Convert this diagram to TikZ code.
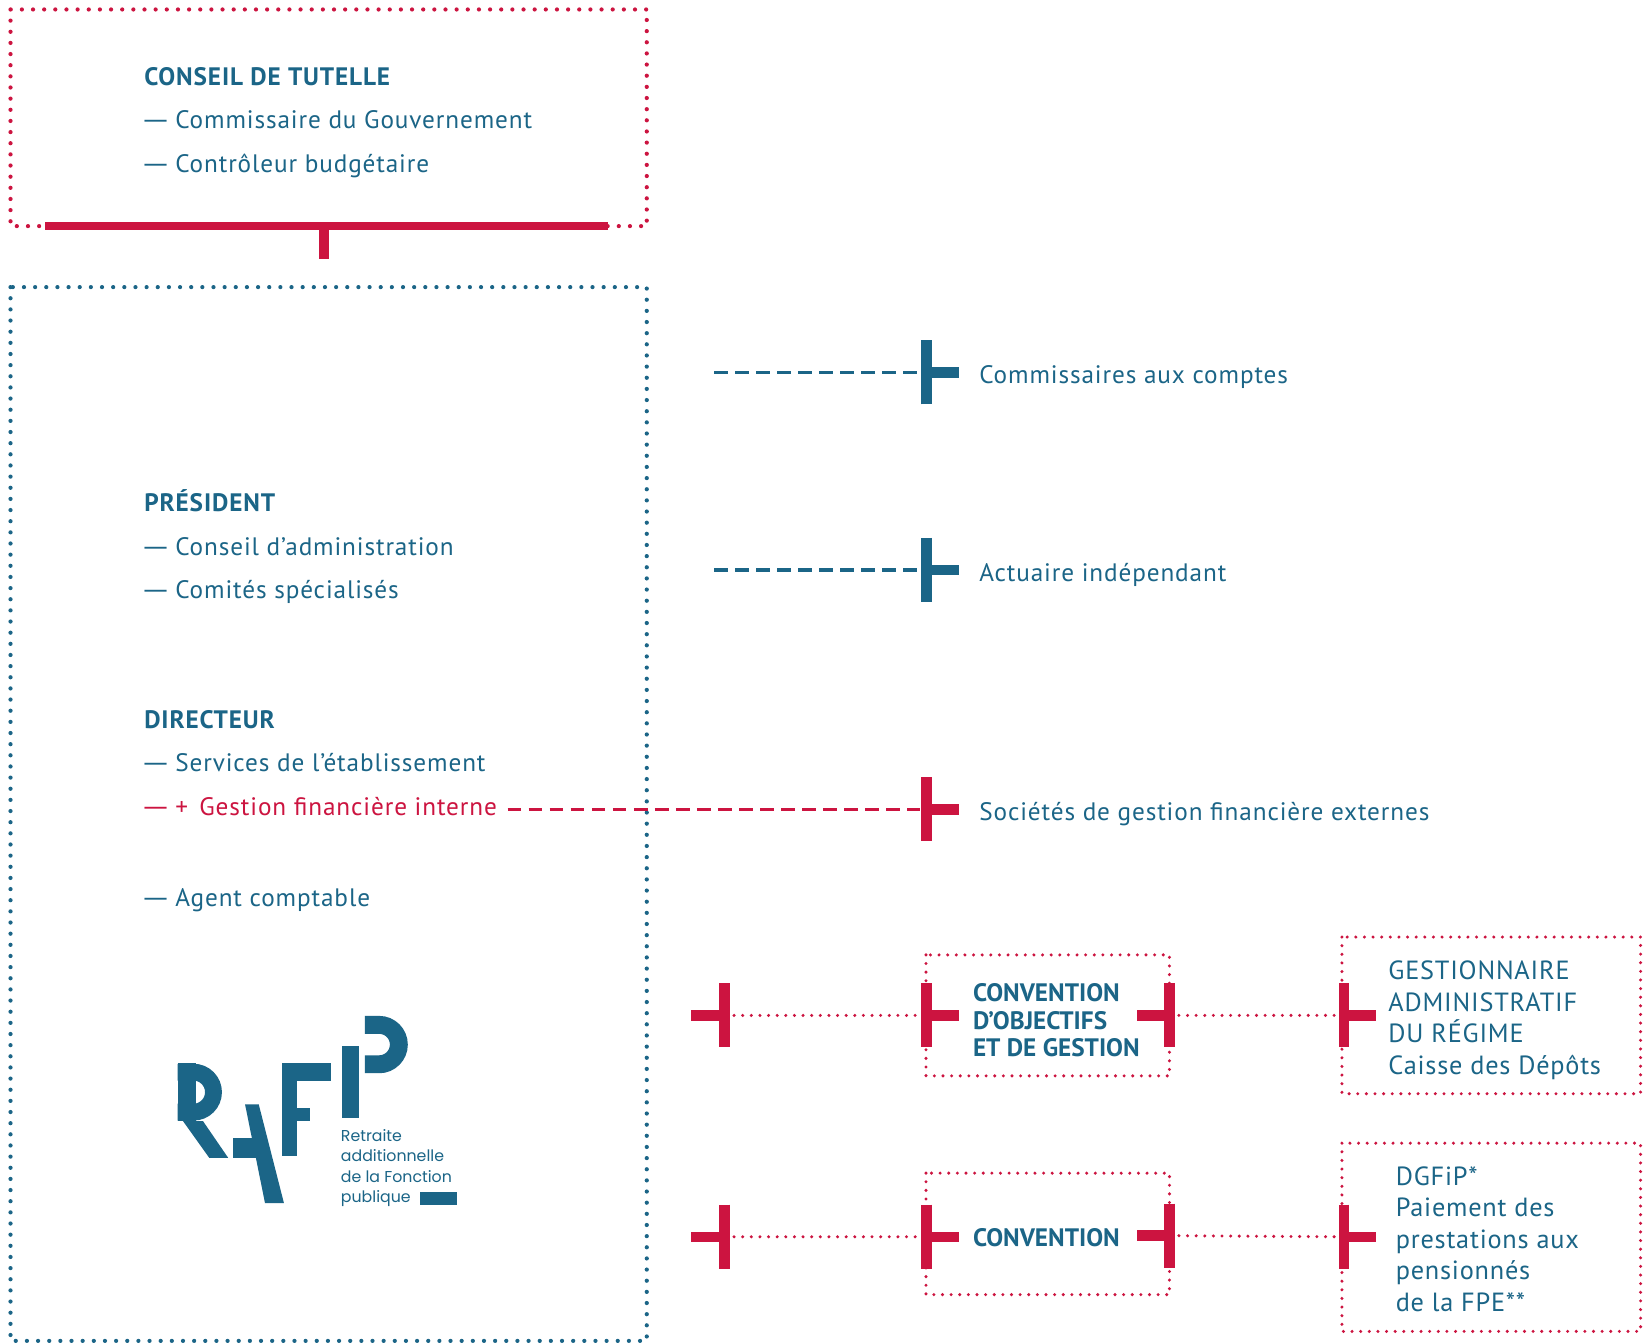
\documentclass[tikz,border=0pt]{standalone}
\usepackage{fontspec}
\usepackage{graphicx}
\setmainfont{PT Sans}
\newfontfamily\bodyfont[LetterSpace=3.5]{PT Sans}
\newfontfamily\boxfont[LetterSpace=3]{PT Sans}
\newfontfamily\logofont{Poppins}
\newcommand\ldash{\hspace{-4pt}\scalebox{1.5}[1]{—}\hspace{4pt}}
\definecolor{rblue}{HTML}{1B6587}
\definecolor{rred}{HTML}{CC1440}
\begin{document}
\begin{tikzpicture}[x=1pt,y=-1pt,
  txt/.style={text=rblue, font=\bodyfont\fontsize{24}{28}\selectfont, inner sep=0pt, anchor=base west},
  head/.style={txt, font=\bodyfont\fontsize{24}{28}\selectfont\bfseries},
  convhead/.style={txt, font=\fontsize{24}{28}\selectfont\bfseries},
  boxtxt/.style={txt, font=\boxfont\fontsize{25}{28}\selectfont},
  redtxt/.style={txt, text=rred},
  logotxt/.style={text=rblue, font=\logofont\fontsize{15}{19}\selectfont, inner sep=0pt, anchor=base west},
  reddots/.style={draw=rred, line width=4pt, line cap=round, dash pattern=on 0pt off 10.6pt},
  bluedots/.style={draw=rblue, line width=4pt, line cap=round, dash pattern=on 0pt off 10.6pt},
  smalldots/.style={draw=rred, line width=3.2pt, line cap=round, dash pattern=on 0pt off 8.2pt},
  bdash/.style={draw=rblue, line width=3pt, dash pattern=on 13pt off 7pt},
  rdash/.style={draw=rred, line width=3pt, dash pattern=on 13pt off 7pt},
  teeb/.style={draw=rblue, line width=10pt},
  teer/.style={draw=rred, line width=10pt},
  logo/.style={fill=rblue, draw=none}
]
\useasboundingbox (0,0) rectangle (1568,1277);
\fill[white] (0,0) rectangle (1568,1277);

% ---------- top box: conseil de tutelle
\draw[reddots] (10,9) rectangle (615,215);
\node[head] (ct) at (137,81) {CONSEIL DE TUTELLE};
\node[txt] (ct1) at (137,122.5) {\ldash Commissaire du Gouvernement};
\node[txt] (ct2) at (137,164) {\ldash Contrôleur budgétaire};
\coordinate (barL) at (43,215);
\coordinate (barR) at (578,215);
\coordinate (stemT) at (308,215);
\coordinate (stemB) at (308,246);
\draw[rred, line width=8pt] (barL) -- (barR);
\draw[rred, line width=10pt] (stemT) -- (stemB);

% ---------- main box
\draw[bluedots] (10,273) rectangle (615,1275);
\node[head] (pres) at (137,486.5) {PRÉSIDENT};
\node[txt] (pres1) at (137,528) {\ldash Conseil d’administration};
\node[txt] (pres2) at (137,569) {\ldash Comités spécialisés};
\node[head] (dir) at (137,692.5) {DIRECTEUR};
\node[txt] (dir1) at (137,734) {\ldash Services de l’établissement};
\node[redtxt] (gfi) at (137,775.5) {\ldash+\hspace{0.45em}Gestion financière interne};
\node[txt] (ac) at (137,861.5) {\ldash Agent comptable};

% ---------- logo
\fill[logo] (169,1011) rectangle (186,1066);
\draw[rblue, line width=16pt] (169,1019.5) -- (184,1019.5) arc[start angle=-90, end angle=90, radius=19] -- (169,1057.5);
\fill[logo] (174,1066) -- (193,1066) -- (217,1101) -- (199,1101) -- cycle;
\fill[logo] (233,1050) -- (246,1050) -- (270,1144) -- (252,1144) -- cycle;
\fill[logo] (222,1082) rectangle (246,1101);
\fill[logo] (268,1011) rectangle (282,1099);
\fill[logo] (268,1011) rectangle (315,1028);
\fill[logo] (282,1053.5) rectangle (295,1066);
\fill[logo] (325,995) rectangle (341,1063);
\draw[rblue, line width=17pt] (347,974.5) -- (360.5,974.5) arc[start angle=-90, end angle=90, radius=18.75] -- (347,1012);
\node[logotxt] (lg1) at (324,1085) {Retraite};
\node[logotxt] (lg2) at (324,1104.5) {additionnelle};
\node[logotxt] (lg3) at (324,1124) {de la Fonction};
\node[logotxt] (lg4) at (324,1143.5) {publique};
\fill[logo] (399,1133) rectangle (435,1146);

% ---------- right column: external actors
\node[txt] (cac) at (931,365) {Commissaires aux comptes};
\coordinate (cacS) at (679,354);
\coordinate (cacT) at (881,354);
\draw[bdash] (cacS) -- ([xshift=-6pt]cacT);
\draw[teeb] ([yshift=-30.5pt]cacT) -- ([yshift=30.5pt]cacT);
\draw[teeb] (cacT) -- ++(31,0);

\node[txt] (act) at (931,552.5) {Actuaire indépendant};
\coordinate (actS) at (679,542);
\coordinate (actT) at (881,542);
\draw[bdash] (actS) -- ([xshift=-6pt]actT);
\draw[teeb] ([yshift=30.5pt]actT) -- ([yshift=-30.5pt]actT);
\draw[teeb] (actT) -- ++(31,0);

\node[txt] (sge) at (931,780.5) {Sociétés de gestion financière externes};
\coordinate (sgT) at (881,769.5);
\draw[rdash] ([xshift=10pt]gfi.east |- sgT) -- ([xshift=-6pt]sgT);
\draw[teer] ([yshift=30.5pt]sgT) -- ([yshift=-30.5pt]sgT);
\draw[teer] (sgT) -- ++(31,0);

% ---------- row 4: convention d'objectifs et de gestion
\draw[smalldots] (880.5,908) rectangle (1112,1023);
\node[convhead] (cog1) at (925,952) {CONVENTION};
\node[convhead] (cog2) at (925,978.5) {D’OBJECTIFS};
\node[convhead] (cog3) at (925,1005) {ET DE GESTION};
\draw[smalldots] (1276,891) rectangle (1560,1040);
\node[boxtxt] (ga1) at (1320,931) {GESTIONNAIRE};
\node[boxtxt] (ga2) at (1320,961.5) {ADMINISTRATIF};
\node[boxtxt] (ga3) at (1320,991.5) {DU RÉGIME};
\node[boxtxt] (ga4) at (1320,1022) {Caisse des Dépôts};
\coordinate (r4a) at (689,965.5);
\coordinate (r4b) at (881,965.5);
\coordinate (r4c) at (1112,965.5);
\coordinate (r4d) at (1278,965.5);
\draw[teer] ([yshift=30.5pt]r4a) -- ([yshift=-30.5pt]r4a);
\draw[teer] (r4a) -- ++(-32,0);
\draw[smalldots] ([xshift=9pt]r4a) -- ([xshift=-8pt]r4b);
\draw[teer] ([yshift=30.5pt]r4b) -- ([yshift=-30.5pt]r4b);
\draw[teer] (r4b) -- ++(31,0);
\draw[teer] ([yshift=30.5pt]r4c) -- ([yshift=-30.5pt]r4c);
\draw[teer] (r4c) -- ++(-31,0);
\draw[smalldots] ([xshift=9pt]r4c) -- ([xshift=-8pt]r4d);
\draw[teer] ([yshift=30.5pt]r4d) -- ([yshift=-30.5pt]r4d);
\draw[teer] (r4d) -- ++(30,0);

% ---------- row 5: convention
\draw[smalldots] (880.5,1115.5) rectangle (1112,1231);
\node[convhead] (conv) at (925,1185.5) {CONVENTION};
\draw[smalldots] (1276,1087) rectangle (1560,1266);
\node[boxtxt] (dg1) at (1327,1127) {DGFiP*};
\node[boxtxt] (dg2) at (1327,1157) {Paiement des};
\node[boxtxt] (dg3) at (1327,1187) {prestations aux};
\node[boxtxt] (dg4) at (1327,1217) {pensionnés};
\node[boxtxt] (dg5) at (1327,1247) {de la FPE**};
\coordinate (r5a) at (689,1176);
\coordinate (r5b) at (881,1176);
\coordinate (r5c) at (1112,1175);
\coordinate (r5d) at (1278,1176);
\draw[teer] ([yshift=30.5pt]r5a) -- ([yshift=-30.5pt]r5a);
\draw[teer] (r5a) -- ++(-32,0);
\draw[smalldots] ([xshift=9pt]r5a) -- ([xshift=-8pt]r5b);
\draw[teer] ([yshift=30.5pt]r5b) -- ([yshift=-30.5pt]r5b);
\draw[teer] (r5b) -- ++(31,0);
\draw[teer] ([yshift=30.5pt]r5c) -- ([yshift=-30.5pt]r5c);
\draw[teer] (r5c) -- ++(-31,0);
\draw[smalldots] ([xshift=9pt]r5c) -- ([xshift=-8pt]r5d);
\draw[teer] ([yshift=30.5pt]r5d) -- ([yshift=-30.5pt]r5d);
\draw[teer] (r5d) -- ++(30,0);
\end{tikzpicture}
\end{document}
